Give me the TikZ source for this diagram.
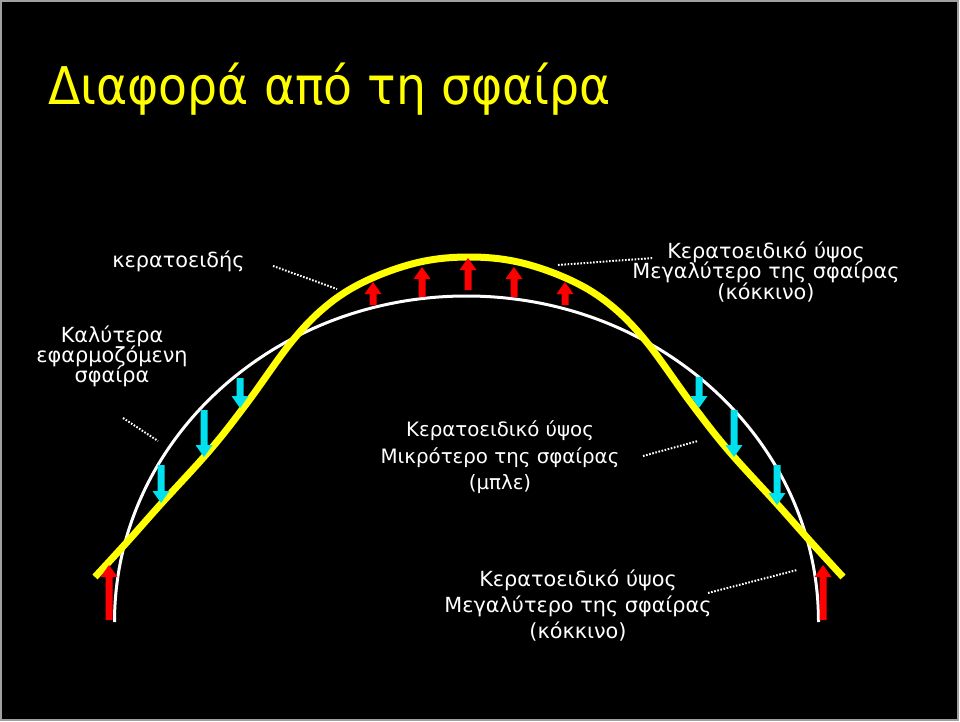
\documentclass[tikz,border=0pt]{standalone}
\usepackage{fontspec}
\setmainfont{DejaVu Sans}
\newfontfamily\titlefont[FakeStretch=0.91]{DejaVu Sans}
\definecolor{cyanarr}{RGB}{0,225,240}
\definecolor{bordergray}{RGB}{160,160,160}
\definecolor{curveyellow}{RGB}{255,255,0}
\newcommand\myUpArrow[4]{%
  \fill[#4] (#1-3.5,#3) -- (#1-3.5,#2+12) -- (#1-8.5,#2+12) -- (#1,#2)
    -- (#1+8.5,#2+12) -- (#1+3.5,#2+12) -- (#1+3.5,#3) -- cycle;}
\newcommand\myDownArrow[4]{%
  \fill[#4] (#1-3.5,#3) -- (#1-3.5,#2-12) -- (#1-8.5,#2-12) -- (#1,#2)
    -- (#1+8.5,#2-12) -- (#1+3.5,#2-12) -- (#1+3.5,#3) -- cycle;}
\begin{document}
\begin{tikzpicture}[x=1pt,y=-1pt,
  lbl/.style={text=white, font=\fontsize{20.8}{24}\selectfont, inner sep=0pt, anchor=base},
  lblsm/.style={lbl, font=\fontsize{19.8}{24}\selectfont},
  dotline/.style={white, line width=2pt, dash pattern=on 1.6pt off 1.6pt},
  sphere/.style={white, line width=3pt},
  cornea/.style={curveyellow, line width=7pt}]
\useasboundingbox (0,0) rectangle (960,722);
\fill[white] (0,0) rectangle (960,722);
\filldraw[fill=black, draw=bordergray, line width=1.5pt] (1,1) rectangle (958,720);

% title
\node[anchor=base west, text=curveyellow, inner sep=0pt,
      font=\titlefont\fontsize{52}{60}\selectfont] (title) at (48,105) {Διαφορά από τη σφαίρα};

% best-fit sphere
\draw[sphere] (114.5,622) arc[start angle=180, end angle=360, x radius=352, y radius=326];

% cornea
\draw[cornea] plot[smooth, tension=0.6] coordinates {
  (95,577) (128,541) (160,505) (210,450) (247,403) (293,340) (330,303)
  (370,279) (420,262) (469,257) (518,262) (568,279) (608,303) (645,340)
  (691,403) (728,450) (778,505) (810,541) (843,577)};

% red arrows (up)
\myUpArrow{373}{282}{305}{red}
\myUpArrow{422}{267}{297}{red}
\myUpArrow{468}{258}{290}{red}
\myUpArrow{514}{267}{297}{red}
\myUpArrow{565}{282}{305}{red}
\myUpArrow{109}{565}{620}{red}
\myUpArrow{823}{565}{620}{red}

% cyan arrows (down)
\myDownArrow{240}{408}{378}{cyanarr}
\myDownArrow{204}{457}{410}{cyanarr}
\myDownArrow{161}{503}{465}{cyanarr}
\myDownArrow{699}{408}{377}{cyanarr}
\myDownArrow{734}{457}{410}{cyanarr}
\myDownArrow{777}{505}{465}{cyanarr}

% labels
\node[lbl] (kerat) at (178.5,267) {κερατοειδής};
\node[lbl] (bfs1) at (112,342) {Καλύτερα};
\node[lbl] (bfs2) at (112,362) {εφαρμοζόμενη};
\node[lbl] (bfs3) at (112,382) {σφαίρα};

\node[lbl] (tr1) at (766,258) {Κερατοειδικό ύψος};
\node[lbl] (tr2) at (766,278) {Μεγαλύτερο της σφαίρας};
\node[lbl] (tr3) at (766,299) {(κόκκινο)};

\node[lblsm] (md1) at (500,436) {Κερατοειδικό ύψος};
\node[lblsm] (md2) at (500,463) {Μικρότερο της σφαίρας};
\node[lblsm] (md3) at (500,489) {(μπλε)};

\node[lbl] (bt1) at (578,586) {Κερατοειδικό ύψος};
\node[lbl] (bt2) at (578,612) {Μεγαλύτερο της σφαίρας};
\node[lbl] (bt3) at (578,638) {(κόκκινο)};

% dotted leaders
\coordinate (d1a) at (273,266); \coordinate (d1b) at (337,289);
\coordinate (d2a) at (123,418); \coordinate (d2b) at (158,441);
\coordinate (d3a) at (558,265); \coordinate (d3b) at (653,258);
\coordinate (d4a) at (643,456); \coordinate (d4b) at (698,441);
\coordinate (d5a) at (708,593); \coordinate (d5b) at (797,570);
\draw[dotline] (d1a) -- (d1b);
\draw[dotline] (d2a) -- (d2b);
\draw[dotline] (d3a) -- (d3b);
\draw[dotline] (d4a) -- (d4b);
\draw[dotline] (d5a) -- (d5b);
\end{tikzpicture}
\end{document}
